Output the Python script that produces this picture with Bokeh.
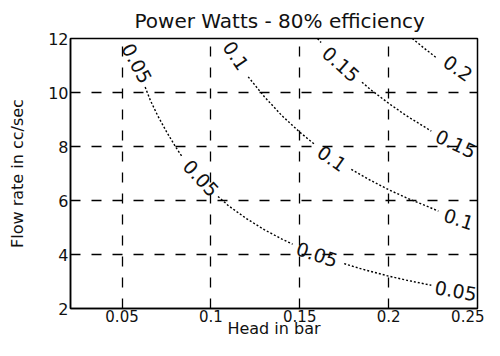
import math
from bokeh.plotting import figure
from bokeh.models import FixedTicker, NumeralTickFormatter, ColumnDataSource, Range1d
from bokeh.core.properties import value
from bokeh.embed import file_html
from bokeh.resources import INLINE

nan = float("nan")

title_text = "Power Watts - 80% efficiency"
x_label = "Head in bar"
y_label = "Flow rate in cc/sec"
x_ticks = [0.05, 0.1, 0.15, 0.2, 0.25]
y_ticks = [2, 4, 6, 8, 10, 12]

# contour lines (gaps where the inline labels sit)
c005_x = [0.063, 0.066, 0.07, 0.075, 0.08, 0.084, nan,
          0.104, 0.11, 0.12, 0.13, 0.14, 0.146, nan,
          0.175, 0.185, 0.2, 0.21, 0.224]
c005_y = [10.2, 9.7, 9.15, 8.55, 8.0, 7.6, nan,
          6.15, 5.8, 5.33, 4.92, 4.57, 4.38, nan,
          3.66, 3.46, 3.2, 3.05, 2.86]
c010_x = [0.121, 0.13, 0.14, 0.15, 0.158, nan,
          0.179, 0.19, 0.2, 0.21, 0.228]
c010_y = [10.58, 9.85, 9.14, 8.53, 8.1, nan,
          7.15, 6.74, 6.4, 6.1, 5.61]
c015_x = [0.16, 0.162, nan, 0.185, 0.19, 0.2, 0.21, 0.224]
c015_y = [12.0, 11.85, nan, 10.38, 10.1, 9.6, 9.14, 8.57]
c020_x = [0.2133, 0.22, 0.227]
c020_y = [12.0, 11.64, 11.28]

# inline contour labels
lab_text = ["0.05", "0.05", "0.05", "0.05", "0.1", "0.1", "0.1", "0.15", "0.15", "0.2"]
lab_x = [0.0584, 0.0944, 0.1597, 0.2378, 0.1141, 0.1681, 0.2395, 0.1732, 0.2378, 0.239]
lab_y = [11.08, 6.83, 4.0, 2.66, 11.37, 7.56, 5.31, 11.05, 8.1, 10.9]
lab_angle_deg = [-62, -47, -18, -10, -56, -35, -18, -42, -25, -35]

FONT = "DejaVu Sans"
INK = "#111111"

p = figure(width=484, height=340, output_backend="svg", toolbar_location=None,
           x_range=Range1d(0.021, 0.25), y_range=Range1d(2, 12),
           min_border_left=70, min_border_right=7, min_border_top=38,
           min_border_bottom=29, title=title_text)
p.background_fill_color = "white"
p.border_fill_color = "white"
p.outline_line_color = "black"
p.outline_line_width = 1.5

p.title.align = "left"
p.title.offset = 64
p.title.text_font = FONT
p.title.text_font_size = "20px"
p.title.text_font_style = "normal"
p.title.text_color = INK
p.title.standoff = 12

for ax in (p.xaxis[0], p.yaxis[0]):
    ax.axis_line_color = "black"
    ax.axis_line_width = 1.5
    ax.major_tick_in = 4
    ax.major_tick_out = 0
    ax.minor_tick_line_color = None
    ax.major_label_text_font = FONT
    ax.major_label_text_color = INK
    ax.axis_label_text_font = FONT
    ax.axis_label_text_font_style = "normal"
    ax.axis_label_text_color = INK

p.xaxis.ticker = FixedTicker(ticks=x_ticks)
p.xaxis.formatter = NumeralTickFormatter(format="0.[00]")
p.xaxis.major_label_text_font_size = "15px"
p.xaxis.major_label_standoff = 1
p.xaxis.axis_label = x_label
p.xaxis.axis_label_text_font_size = "16px"
p.xaxis.axis_label_standoff = -6

p.yaxis.ticker = FixedTicker(ticks=y_ticks)
p.yaxis.major_label_text_font_size = "16px"
p.yaxis.major_label_standoff = 2
p.yaxis.axis_label = y_label
p.yaxis.axis_label_text_font_size = "16px"
p.yaxis.axis_label_standoff = 18

for g in (p.xgrid[0], p.ygrid[0]):
    g.grid_line_color = "black"
    g.grid_line_width = 1.3
    g.grid_line_dash = "10 11"
    g.grid_line_alpha = 1.0
p.xgrid.ticker = FixedTicker(ticks=x_ticks)
p.ygrid.ticker = FixedTicker(ticks=y_ticks)

for xs, ys in ((c005_x, c005_y), (c010_x, c010_y), (c015_x, c015_y), (c020_x, c020_y)):
    p.line(xs, ys, line_color="black", line_width=1.4, line_dash="2 2")

src = ColumnDataSource(dict(x=lab_x, y=lab_y, text=lab_text,
                            angle=[math.radians(a) for a in lab_angle_deg]))
p.text(x="x", y="y", text="text", angle="angle", source=src,
       text_font=value(FONT), text_font_size="19px", text_color=INK,
       text_align="center", text_baseline="middle")

open("out.html", "w").write(file_html(p, INLINE))
